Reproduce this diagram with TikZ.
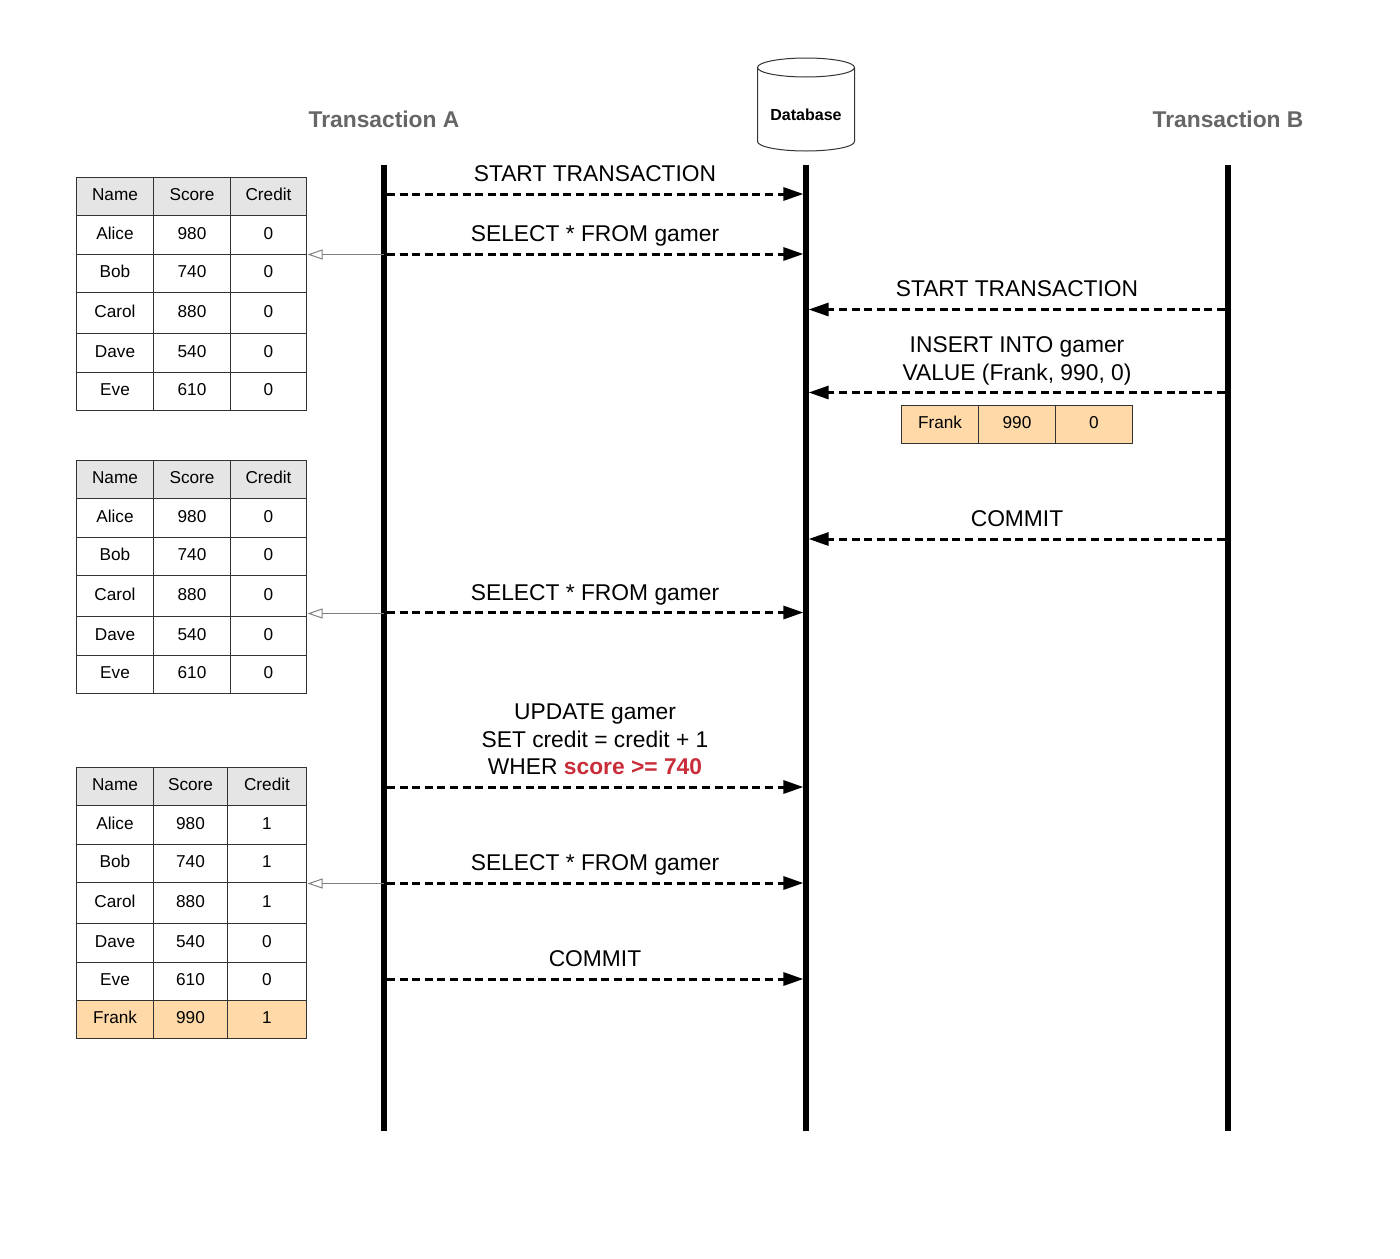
\documentclass[tikz,border=0pt]{standalone}
\usepackage{fontspec}
\setmainfont{Liberation Sans}
\usetikzlibrary{arrows.meta}
\definecolor{headgray}{RGB}{229,229,229}
\definecolor{softorange}{RGB}{255,218,168}
\definecolor{titlegray}{RGB}{102,102,102}
\definecolor{accentred}{RGB}{201,45,57}
\definecolor{linegray}{RGB}{51,51,51}
% one table cell, given by its edges
\newcommand{\gamercell}[7]{\node[cell, fill=#7, minimum width={((#3)-(#2))*0.5pt}, minimum height={((#5)-(#4))*0.5pt}] (#1) at ({((#2)+(#3))/2-0.5},{((#4)+(#5))/2-0.5}) {#6};}
\newcommand{\gamerrow}[7]{%
  \gamercell{#1a}{\xa}{\xb}{#2}{#3}{#5}{#4}
  \gamercell{#1b}{\xb}{\xc}{#2}{#3}{#6}{#4}
  \gamercell{#1c}{\xc}{\xd}{#2}{#3}{#7}{#4}}

\begin{document}
\begin{tikzpicture}[x=0.5pt, y=-0.5pt, >=Latex,
    cell/.style={draw=linegray, line width=0.5pt, inner sep=0pt, outer sep=0pt, font=\fontsize{8.6}{11}\selectfont, text height=6.5pt, text depth=2.2pt},
    lifeline/.style={line width=3pt},
    msg/.style={-{Triangle[length=10pt,width=6.5pt]}, line width=1.5pt, dash pattern=on 4pt off 2.3pt, shorten >=1.3pt, shorten <=1.5pt},
    readback/.style={-{Triangle[open,length=7.5pt,width=5pt,fill=white]}, draw=gray, line width=0.5pt, shorten >=0.5pt},
    msglabel/.style={anchor=base, align=center, inner sep=0pt, font=\fontsize{11.4}{13.7}\selectfont},
    title/.style={font=\fontsize{11.4}{14}\selectfont\bfseries, text=titlegray}]
  \useasboundingbox (0,0) rectangle (1400,1258);

  % headers
  \node[title] (titleA) at (384,119) {Transaction A};
  \node[title] (titleB) at (1228,119) {Transaction B};

  % database drum
  \draw[draw=linegray, line width=0.5pt] (757.5,67.5) -- (757.5,141.5) arc[start angle=180, end angle=360, x radius=24.25pt, y radius=4.75pt] -- (854.5,67.5);
  \draw[draw=linegray, line width=0.5pt] (806,67.5) circle[x radius=24.25pt, y radius=4.75pt];
  \node[font=\fontsize{8}{10}\selectfont\bfseries] (dbtext) at (806,115) {Database};

  % lifelines
  \coordinate (topA) at (384,165);
  \coordinate (botA) at (384,1131);
  \coordinate (topD) at (806,165);
  \coordinate (botD) at (806,1131);
  \coordinate (topB) at (1228,165);
  \coordinate (botB) at (1228,1131);
  \draw[lifeline] (topA) -- (botA);
  \draw[lifeline] (topD) -- (botD);
  \draw[lifeline] (topB) -- (botB);

  % first two snapshots of the table
  \def\xa{77}\def\xb{154}\def\xc{231}\def\xd{307}
  \foreach \tbl/\off in {p/0, q/283} {
    \gamerrow{\tbl0}{178+\off}{216+\off}{headgray}{Name}{Score}{Credit}
    \foreach \r/\yt/\yb/\who/\pts in {1/216/255/Alice/980, 2/255/293/Bob/740, 3/293/334/Carol/880, 4/334/373/Dave/540, 5/373/411/Eve/610} {
      \gamerrow{\tbl\r}{\yt+\off}{\yb+\off}{white}{\who}{\pts}{0}
    }
  }

  % last snapshot
  \def\xa{77}\def\xb{154}\def\xc{228}\def\xd{307}
  \gamerrow{r0}{768}{806}{headgray}{Name}{Score}{Credit}
  \gamerrow{r1}{806}{845}{white}{Alice}{980}{1}
  \gamerrow{r2}{845}{883}{white}{Bob}{740}{1}
  \gamerrow{r3}{883}{924}{white}{Carol}{880}{1}
  \gamerrow{r4}{924}{963}{white}{Dave}{540}{0}
  \gamerrow{r5}{963}{1001}{white}{Eve}{610}{0}
  \gamerrow{r6}{1001}{1039}{softorange}{Frank}{990}{1}

  % inserted row
  \def\xa{902}\def\xb{979}\def\xc{1056}\def\xd{1133}
  \gamerrow{ins}{406}{444}{softorange}{Frank}{990}{0}

  % messages from A to the database
  \foreach \id/\y in {m1/194, m2/254, m3/612.5, m4/787, m5/883, m6/979} {
    \coordinate (a\id) at (384,\y);
    \coordinate (d\id) at (806,\y);
    \draw[msg] (a\id) -- (d\id);
  }
  % messages from B to the database
  \foreach \id/\y in {n1/309.5, n2/392.5, n3/539} {
    \coordinate (b\id) at (1228,\y);
    \coordinate (d\id) at (806,\y);
    \draw[msg] (b\id) -- (d\id);
  }

  % result sets going back to A
  \coordinate (rs1) at (384,254.5);
  \coordinate (rs2) at (384,613.5);
  \coordinate (rs3) at (384,883.5);
  \draw[readback] (rs1) -- (rs1 -| p1c.east);
  \draw[readback] (rs2) -- (rs2 -| q3c.east);
  \draw[readback] (rs3) -- (rs3 -| r2c.east);

  % statements
  \node[msglabel] (s1) at (595,181.5) {START TRANSACTION};
  \node[msglabel] (s2) at (595,241.5) {SELECT * FROM gamer};
  \node[msglabel] (s3) at (595,600) {SELECT * FROM gamer};
  \node[msglabel] (s4) at (595,774.5) {UPDATE gamer\\SET credit = credit + 1\\WHER {\color{accentred}\bfseries score >= 740}};
  \node[msglabel] (s5) at (595,870.5) {SELECT * FROM gamer};
  \node[msglabel] (s6) at (595,966.5) {COMMIT};
  \node[msglabel] (t1) at (1017,296.5) {START TRANSACTION};
  \node[msglabel] (t2) at (1017,380) {INSERT INTO gamer\\VALUE (Frank, 990, 0)};
  \node[msglabel] (t3) at (1017,526.5) {COMMIT};
\end{tikzpicture}
\end{document}
